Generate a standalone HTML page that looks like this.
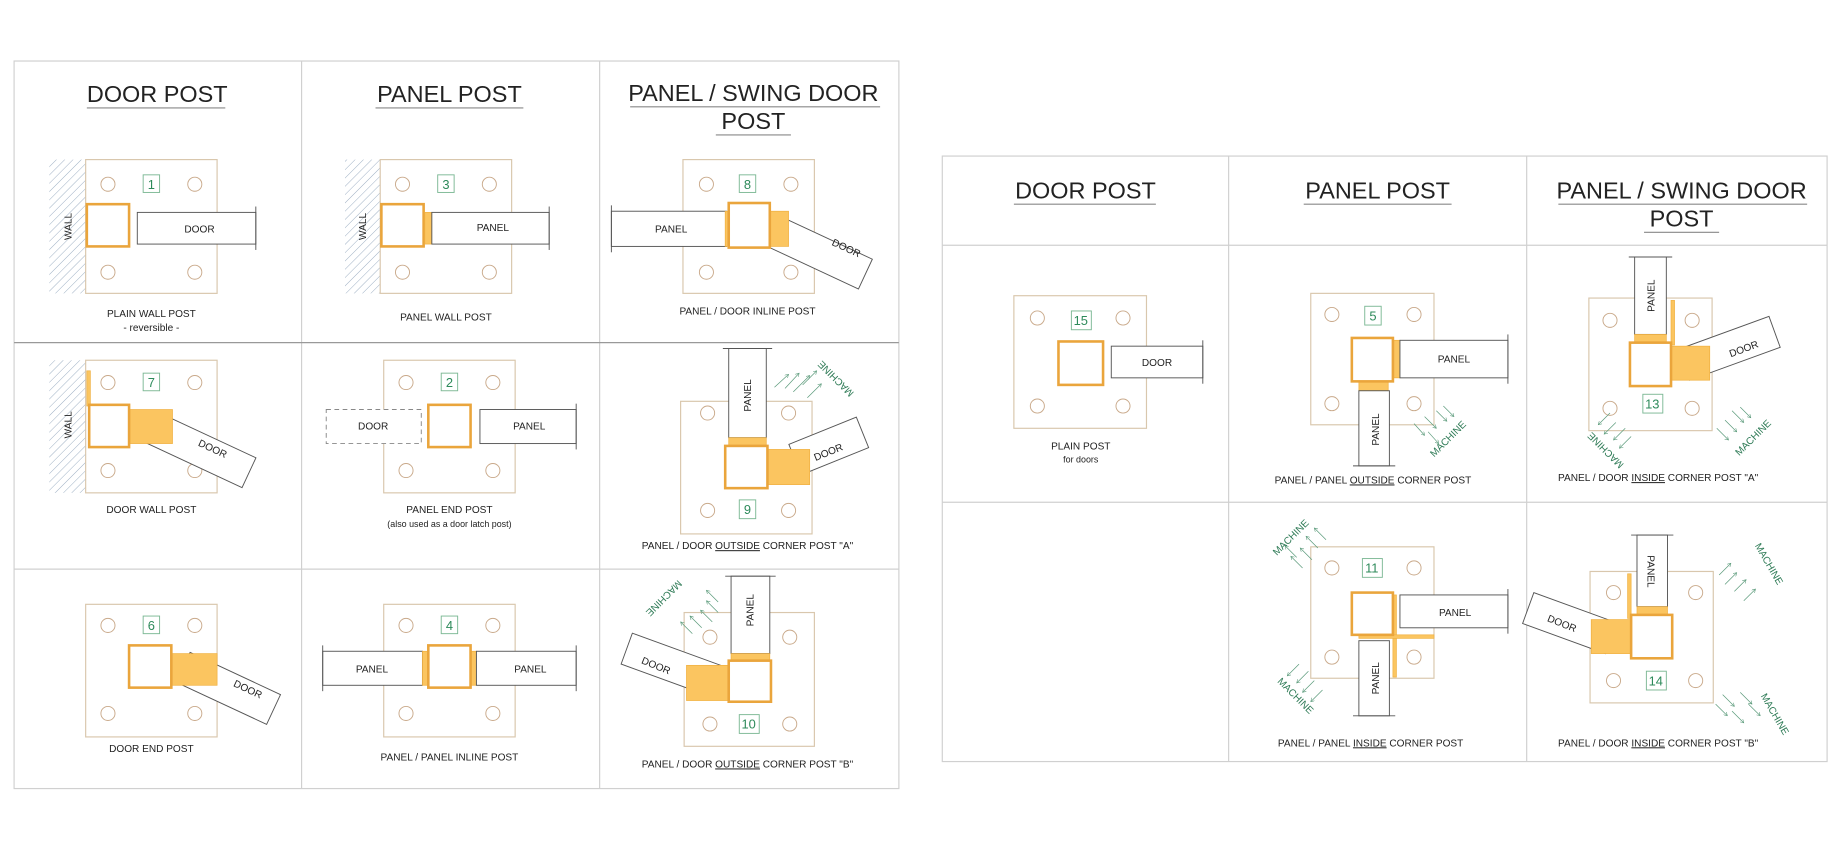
<!DOCTYPE html>
<html><head><meta charset="utf-8"><style>
html,body{margin:0;padding:0;background:#fff;width:1840px;height:866px;overflow:hidden}
svg{display:block}
text{font-family:"Liberation Sans",sans-serif;fill:#222}
.pl{fill:#fff;stroke:#d9c7ad;stroke-width:1}
.h{fill:#fff;stroke:#c9a98a;stroke-width:.8}
.po{fill:#fff;stroke:#eaa53c;stroke-width:2.2}
.or{fill:#fbc560;stroke:#f0b040;stroke-width:.6}
.pn{fill:#fff;stroke:#555;stroke-width:.8}
.nb{fill:#fff;stroke:#7cb894;stroke-width:.8}
.nt{fill:#2d8a5a;font-size:11px;text-anchor:middle}
.lb{font-size:8.6px;text-anchor:middle}
.t{font-size:8.6px;text-anchor:middle}
.hd{font-size:20px;text-anchor:middle}
.mc{fill:#2d7a55;font-size:8.5px;text-anchor:middle}
.ar{stroke:#5a9a7a;stroke-width:.6;fill:none;marker-end:url(#a)}
.g{stroke:#d0d0d0;stroke-width:1;fill:none}
.gd{stroke:#999;stroke-width:1}
</style></head><body>
<svg width="1840" height="866" viewBox="0 0 1568 738" preserveAspectRatio="none">
<defs>
<marker id="a" markerWidth="6" markerHeight="6" refX="5" refY="3" orient="auto"><path d="M0,0 L5,3 L0,6" fill="none" stroke="#5a9a7a" stroke-width=".8"/></marker>
<pattern id="hatch" width="5" height="5" patternUnits="userSpaceOnUse" patternTransform="rotate(45)"><line x1="0" y1="0" x2="0" y2="5" stroke="#8aa0b8" stroke-width=".7"/></pattern>
</defs>

<!-- LEFT TABLE -->
<rect x="12" y="52" width="754" height="620" class="g"/>
<line x1="257" y1="52" x2="257" y2="672" class="g"/>
<line x1="511" y1="52" x2="511" y2="672" class="g"/>
<line x1="12" y1="292" x2="766" y2="292" class="gd"/>
<line x1="12" y1="485" x2="766" y2="485" class="g"/>

<text x="134" y="87" class="hd">DOOR POST</text><line x1="74" y1="92" x2="192" y2="92" stroke="#888"/>
<text x="383" y="87" class="hd">PANEL POST</text><line x1="320" y1="92" x2="446" y2="92" stroke="#888"/>
<text x="642" y="86" class="hd">PANEL / SWING DOOR</text><line x1="537" y1="91" x2="750" y2="91" stroke="#888"/>
<text x="642" y="110" class="hd">POST</text><line x1="610" y1="115" x2="674" y2="115" stroke="#888"/>

<!-- cell 1 -->
<rect x="42" y="136" width="31" height="114" fill="url(#hatch)"/>
<rect x="73" y="136" width="112" height="114" class="pl"/>
<circle cx="92" cy="157" r="6" class="h"/><circle cx="166" cy="157" r="6" class="h"/><circle cx="92" cy="232" r="6" class="h"/><circle cx="166" cy="232" r="6" class="h"/>
<rect x="122" y="149" width="14" height="15" class="nb"/><text x="129" y="161" class="nt">1</text>
<rect x="74" y="174" width="36" height="36" class="po"/>
<rect x="117" y="181" width="101" height="27" class="pn"/><line x1="218" y1="176" x2="218" y2="213" stroke="#555" stroke-width=".8"/>
<text x="170" y="198" class="t">DOOR</text>
<text x="61" y="193" class="t" transform="rotate(-90 61 193)">WALL</text>
<text x="129" y="270" class="lb">PLAIN WALL POST</text><text x="129" y="282" class="lb">- reversible -</text>

<!-- cell 3 -->
<rect x="294" y="136" width="30" height="114" fill="url(#hatch)"/>
<rect x="324" y="136" width="112" height="114" class="pl"/>
<circle cx="343" cy="157" r="6" class="h"/><circle cx="417" cy="157" r="6" class="h"/><circle cx="343" cy="232" r="6" class="h"/><circle cx="417" cy="232" r="6" class="h"/>
<rect x="373" y="149" width="14" height="15" class="nb"/><text x="380" y="161" class="nt">3</text>
<rect x="325" y="174" width="36" height="36" class="po"/>
<rect x="362" y="181" width="6" height="27" class="or"/>
<rect x="368" y="181" width="100" height="27" class="pn"/><line x1="468" y1="176" x2="468" y2="213" stroke="#555" stroke-width=".8"/>
<text x="420" y="197" class="t">PANEL</text>
<text x="312" y="193" class="t" transform="rotate(-90 312 193)">WALL</text>
<text x="380" y="273" class="lb">PANEL WALL POST</text>

<!-- cell 8 -->
<rect x="582" y="136" width="112" height="114" class="pl"/>
<circle cx="602" cy="157" r="6" class="h"/><circle cx="674" cy="157" r="6" class="h"/><circle cx="602" cy="232" r="6" class="h"/><circle cx="674" cy="232" r="6" class="h"/>
<rect x="630" y="149" width="14" height="15" class="nb"/><text x="637" y="161" class="nt">8</text>
<g transform="translate(660,182) rotate(25)"><rect x="0" y="0" width="92" height="28" class="pn"/></g>
<text x="720" y="214" class="t" transform="rotate(25 720 214)">DOOR</text>
<rect x="521" y="180" width="98" height="30" class="pn"/><line x1="521" y1="175" x2="521" y2="215" stroke="#555" stroke-width=".8"/>
<text x="572" y="198" class="t">PANEL</text>
<rect x="618" y="180" width="54" height="30" class="or"/>
<rect x="621" y="173" width="35" height="38" class="po"/>
<text x="637" y="268" class="lb">PANEL / DOOR INLINE POST</text>

<!-- cell 7 -->
<rect x="42" y="307" width="31" height="113" fill="url(#hatch)"/>
<rect x="73" y="307" width="112" height="113" class="pl"/>
<circle cx="92" cy="326" r="6" class="h"/><circle cx="166" cy="326" r="6" class="h"/><circle cx="92" cy="401" r="6" class="h"/><circle cx="166" cy="401" r="6" class="h"/>
<rect x="122" y="318" width="14" height="15" class="nb"/><text x="129" y="330" class="nt">7</text>
<g transform="translate(132,350) rotate(25)"><rect x="0" y="0" width="95" height="28" class="pn"/></g>
<text x="180" y="385" class="t" transform="rotate(25 180 385)">DOOR</text>
<rect x="110" y="349" width="37" height="29" class="or"/>
<rect x="74" y="316" width="3" height="30" class="or"/>
<rect x="76" y="345" width="34" height="36" class="po"/>
<text x="61" y="362" class="t" transform="rotate(-90 61 362)">WALL</text>
<text x="129" y="437" class="lb">DOOR WALL POST</text>

<!-- cell 2 -->
<rect x="327" y="307" width="112" height="113" class="pl"/>
<circle cx="346" cy="326" r="6" class="h"/><circle cx="420" cy="326" r="6" class="h"/><circle cx="346" cy="401" r="6" class="h"/><circle cx="420" cy="401" r="6" class="h"/>
<rect x="376" y="318" width="14" height="15" class="nb"/><text x="383" y="330" class="nt">2</text>
<rect x="278" y="349" width="81" height="29" fill="#fff" stroke="#888" stroke-width=".8" stroke-dasharray="4 3"/>
<text x="318" y="366" class="t">DOOR</text>
<rect x="365" y="345" width="36" height="36" class="po"/>
<rect x="409" y="349" width="82" height="29" class="pn"/><line x1="491" y1="344" x2="491" y2="383" stroke="#555" stroke-width=".8"/>
<text x="451" y="366" class="t">PANEL</text>
<text x="383" y="437" class="lb">PANEL END POST</text><text x="383" y="449" class="lb" style="font-size:7.6px">(also used as a door latch post)</text>

<!-- cell 9 -->
<rect x="580" y="342" width="112" height="113" class="pl"/>
<circle cx="603" cy="352" r="6" class="h"/><circle cx="672" cy="352" r="6" class="h"/><circle cx="603" cy="435" r="6" class="h"/><circle cx="672" cy="435" r="6" class="h"/>
<rect x="630" y="426" width="14" height="16" class="nb"/><text x="637" y="438" class="nt">9</text>
<rect x="621" y="297" width="32" height="76" class="pn"/><line x1="616" y1="297" x2="658" y2="297" stroke="#555" stroke-width=".8"/>
<text x="640" y="337" class="t" transform="rotate(-90 640 337)">PANEL</text>
<rect x="621" y="373" width="32" height="7" class="or"/>
<g transform="translate(676,388) rotate(-22)"><rect x="0" y="-10" width="62" height="28" class="pn"/></g>
<text x="707" y="388" class="t" transform="rotate(-22 707 388)">DOOR</text>
<rect x="654" y="383" width="36" height="30" class="or"/>
<rect x="618" y="380" width="36" height="36" class="po"/>
<line x1="684" y1="328" x2="696" y2="316" class="ar"/><line x1="676" y1="334" x2="690" y2="320" class="ar"/><line x1="669" y1="331" x2="681" y2="318" class="ar"/><line x1="688" y1="339" x2="700" y2="327" class="ar"/><line x1="660" y1="330" x2="672" y2="319" class="ar"/>
<text x="710" y="325" class="mc" transform="rotate(45 710 325) rotate(180 710 322)">MACHINE</text>
<text x="637" y="468" class="lb">PANEL / DOOR <tspan text-decoration="underline">OUTSIDE</tspan> CORNER POST "A"</text>

<!-- cell 6 -->
<rect x="73" y="515" width="112" height="113" class="pl"/>
<circle cx="92" cy="533" r="6" class="h"/><circle cx="166" cy="533" r="6" class="h"/><circle cx="92" cy="608" r="6" class="h"/><circle cx="166" cy="608" r="6" class="h"/>
<rect x="122" y="525" width="14" height="15" class="nb"/><text x="129" y="537" class="nt">6</text>
<g transform="translate(162,556) rotate(25)"><rect x="0" y="0" width="85" height="28" class="pn"/></g>
<text x="210" y="590" class="t" transform="rotate(25 210 590)">DOOR</text>
<rect x="146" y="557" width="39" height="27" class="or"/>
<rect x="110" y="550" width="36" height="36" class="po"/>
<text x="129" y="641" class="lb">DOOR END POST</text>

<!-- cell 4 -->
<rect x="327" y="515" width="112" height="113" class="pl"/>
<circle cx="346" cy="533" r="6" class="h"/><circle cx="420" cy="533" r="6" class="h"/><circle cx="346" cy="608" r="6" class="h"/><circle cx="420" cy="608" r="6" class="h"/>
<rect x="376" y="525" width="14" height="15" class="nb"/><text x="383" y="537" class="nt">4</text>
<rect x="275" y="555" width="85" height="29" class="pn"/><line x1="275" y1="550" x2="275" y2="589" stroke="#555" stroke-width=".8"/>
<text x="317" y="573" class="t">PANEL</text>
<rect x="360" y="555" width="46" height="29" class="or"/>
<rect x="365" y="550" width="36" height="36" class="po"/>
<rect x="406" y="555" width="85" height="29" class="pn"/><line x1="491" y1="550" x2="491" y2="589" stroke="#555" stroke-width=".8"/>
<text x="452" y="573" class="t">PANEL</text>
<text x="383" y="648" class="lb">PANEL / PANEL INLINE POST</text>

<!-- cell 10 -->
<rect x="583" y="522" width="111" height="114" class="pl"/>
<circle cx="605" cy="543" r="6" class="h"/><circle cx="673" cy="543" r="6" class="h"/><circle cx="605" cy="617" r="6" class="h"/><circle cx="673" cy="617" r="6" class="h"/>
<rect x="630" y="609" width="17" height="16" class="nb"/><text x="638" y="621" class="nt">10</text>
<rect x="623" y="491" width="33" height="66" class="pn"/><line x1="618" y1="491" x2="661" y2="491" stroke="#555" stroke-width=".8"/>
<text x="642" y="520" class="t" transform="rotate(-90 642 520)">PANEL</text>
<rect x="623" y="557" width="33" height="8" class="or"/>
<g transform="translate(612,596) rotate(200)"><rect x="0" y="0" width="88" height="28" class="pn"/></g>
<text x="558" y="570" class="t" transform="rotate(22 558 570)">DOOR</text>
<rect x="585" y="567" width="36" height="30" class="or"/>
<rect x="621" y="563" width="36" height="35" class="po"/>
<line x1="590" y1="540" x2="580" y2="530" class="ar"/><line x1="598" y1="535" x2="588" y2="525" class="ar"/><line x1="607" y1="530" x2="597" y2="520" class="ar"/><line x1="612" y1="522" x2="602" y2="512" class="ar"/><line x1="612" y1="513" x2="602" y2="503" class="ar"/>
<text x="568" y="512" class="mc" transform="rotate(-45 568 512) rotate(180 568 509)">MACHINE</text>
<text x="637" y="654" class="lb">PANEL / DOOR <tspan text-decoration="underline">OUTSIDE</tspan> CORNER POST "B"</text>

<!-- RIGHT TABLE -->
<rect x="803" y="133" width="754" height="516" class="g"/>
<line x1="1047" y1="133" x2="1047" y2="649" class="g"/>
<line x1="1301" y1="133" x2="1301" y2="649" class="g"/>
<line x1="803" y1="209" x2="1557" y2="209" class="g"/>
<line x1="803" y1="428" x2="1557" y2="428" class="g"/>

<text x="925" y="169" class="hd">DOOR POST</text><line x1="864" y1="174" x2="985" y2="174" stroke="#888"/>
<text x="1174" y="169" class="hd">PANEL POST</text><line x1="1111" y1="174" x2="1237" y2="174" stroke="#888"/>
<text x="1433" y="169" class="hd">PANEL / SWING DOOR</text><line x1="1328" y1="174" x2="1540" y2="174" stroke="#888"/>
<text x="1433" y="193" class="hd">POST</text><line x1="1401" y1="198" x2="1465" y2="198" stroke="#888"/>

<!-- cell 15 -->
<rect x="864" y="252" width="113" height="113" class="pl"/>
<circle cx="884" cy="271" r="6" class="h"/><circle cx="957" cy="271" r="6" class="h"/><circle cx="884" cy="346" r="6" class="h"/><circle cx="957" cy="346" r="6" class="h"/>
<rect x="913" y="265" width="17" height="16" class="nb"/><text x="921" y="277" class="nt">15</text>
<rect x="902" y="291" width="38" height="37" class="po"/>
<rect x="947" y="295" width="78" height="27" class="pn"/><line x1="1025" y1="290" x2="1025" y2="327" stroke="#555" stroke-width=".8"/>
<text x="986" y="312" class="t">DOOR</text>
<text x="921" y="383" class="lb">PLAIN POST</text><text x="921" y="394" class="lb" style="font-size:7.6px">for doors</text>

<!-- cell 5 -->
<rect x="1117" y="250" width="105" height="112" class="pl"/>
<circle cx="1135" cy="268" r="6" class="h"/><circle cx="1205" cy="268" r="6" class="h"/><circle cx="1135" cy="344" r="6" class="h"/><circle cx="1205" cy="344" r="6" class="h"/>
<rect x="1163" y="261" width="14" height="16" class="nb"/><text x="1170" y="273" class="nt">5</text>
<rect x="1187" y="290" width="6" height="32" class="or"/>
<rect x="1193" y="290" width="92" height="32" class="pn"/><line x1="1285" y1="285" x2="1285" y2="327" stroke="#555" stroke-width=".8"/>
<text x="1239" y="309" class="t">PANEL</text>
<rect x="1158" y="325" width="25" height="8" class="or"/>
<rect x="1158" y="333" width="26" height="64" class="pn"/><line x1="1153" y1="397" x2="1189" y2="397" stroke="#555" stroke-width=".8"/>
<text x="1175" y="366" class="t" transform="rotate(-90 1175 366)">PANEL</text>
<rect x="1152" y="288" width="35" height="37" class="po"/>
<line x1="1205" y1="361" x2="1214" y2="371" class="ar"/><line x1="1214" y1="355" x2="1224" y2="365" class="ar"/><line x1="1224" y1="350" x2="1233" y2="359" class="ar"/><line x1="1217" y1="368" x2="1226" y2="378" class="ar"/><line x1="1230" y1="346" x2="1239" y2="355" class="ar"/>
<text x="1236" y="376" class="mc" transform="rotate(-45 1236 376)">MACHINE</text>
<text x="1170" y="412" class="lb">PANEL / PANEL <tspan text-decoration="underline">OUTSIDE</tspan> CORNER POST</text>

<!-- cell 13 -->
<rect x="1354" y="254" width="105" height="113" class="pl"/>
<circle cx="1372" cy="273" r="6" class="h"/><circle cx="1442" cy="273" r="6" class="h"/><circle cx="1372" cy="348" r="6" class="h"/><circle cx="1442" cy="348" r="6" class="h"/>
<rect x="1400" y="336" width="17" height="16" class="nb"/><text x="1408" y="348" class="nt">13</text>
<rect x="1393" y="219" width="27" height="66" class="pn"/><line x1="1388" y1="219" x2="1425" y2="219" stroke="#555" stroke-width=".8"/>
<text x="1410" y="252" class="t" transform="rotate(-90 1410 252)">PANEL</text>
<rect x="1393" y="285" width="27" height="7" class="or"/>
<g transform="translate(1440,324) rotate(-20)"><rect x="0" y="-28" width="82" height="28" class="pn"/></g>
<text x="1487" y="300" class="t" transform="rotate(-20 1487 300)">DOOR</text>
<rect x="1424" y="295" width="33" height="29" class="or"/>
<rect x="1424" y="256" width="3" height="38" class="or"/>
<rect x="1389" y="292" width="35" height="37" class="po"/>
<line x1="1372" y1="352" x2="1362" y2="362" class="ar"/><line x1="1377" y1="360" x2="1367" y2="370" class="ar"/><line x1="1385" y1="365" x2="1375" y2="375" class="ar"/><line x1="1390" y1="372" x2="1380" y2="382" class="ar"/>
<text x="1366" y="386" class="mc" transform="rotate(45 1366 386) rotate(180 1366 383)">MACHINE</text>
<line x1="1463" y1="365" x2="1473" y2="375" class="ar"/><line x1="1470" y1="358" x2="1480" y2="368" class="ar"/><line x1="1476" y1="350" x2="1486" y2="360" class="ar"/><line x1="1483" y1="347" x2="1492" y2="356" class="ar"/>
<text x="1496" y="375" class="mc" transform="rotate(-45 1496 375)">MACHINE</text>
<text x="1413" y="410" class="lb">PANEL / DOOR <tspan text-decoration="underline">INSIDE</tspan> CORNER POST "A"</text>

<!-- cell 11 -->
<rect x="1117" y="466" width="105" height="112" class="pl"/>
<circle cx="1135" cy="484" r="6" class="h"/><circle cx="1205" cy="484" r="6" class="h"/><circle cx="1135" cy="560" r="6" class="h"/><circle cx="1205" cy="560" r="6" class="h"/>
<rect x="1161" y="476" width="17" height="16" class="nb"/><text x="1169" y="488" class="nt">11</text>
<rect x="1193" y="507" width="92" height="28" class="pn"/><line x1="1285" y1="502" x2="1285" y2="540" stroke="#555" stroke-width=".8"/>
<text x="1240" y="525" class="t">PANEL</text>
<rect x="1158" y="546" width="26" height="64" class="pn"/><line x1="1153" y1="610" x2="1189" y2="610" stroke="#555" stroke-width=".8"/>
<text x="1175" y="578" class="t" transform="rotate(-90 1175 578)">PANEL</text>
<rect x="1187" y="507" width="3" height="70" class="or"/>
<rect x="1158" y="541" width="64" height="3" class="or"/>
<rect x="1152" y="505" width="35" height="36" class="po"/>
<line x1="1110" y1="484" x2="1100" y2="474" class="ar"/><line x1="1118" y1="477" x2="1108" y2="467" class="ar"/><line x1="1123" y1="467" x2="1113" y2="457" class="ar"/><line x1="1130" y1="460" x2="1120" y2="450" class="ar"/><line x1="1105" y1="475" x2="1095" y2="465" class="ar"/>
<text x="1102" y="460" class="mc" transform="rotate(-45 1102 460)">MACHINE</text>
<line x1="1107" y1="566" x2="1097" y2="576" class="ar"/><line x1="1115" y1="572" x2="1105" y2="582" class="ar"/><line x1="1120" y1="580" x2="1110" y2="590" class="ar"/><line x1="1127" y1="588" x2="1117" y2="598" class="ar"/>
<text x="1102" y="595" class="mc" transform="rotate(45 1102 595)">MACHINE</text>
<text x="1168" y="636" class="lb">PANEL / PANEL <tspan text-decoration="underline">INSIDE</tspan> CORNER POST</text>

<!-- cell 14 -->
<rect x="1355" y="487" width="105" height="112" class="pl"/>
<circle cx="1375" cy="505" r="6" class="h"/><circle cx="1445" cy="505" r="6" class="h"/><circle cx="1375" cy="580" r="6" class="h"/><circle cx="1445" cy="580" r="6" class="h"/>
<rect x="1403" y="572" width="17" height="16" class="nb"/><text x="1411" y="584" class="nt">14</text>
<rect x="1395" y="456" width="26" height="61" class="pn"/><line x1="1390" y1="456" x2="1426" y2="456" stroke="#555" stroke-width=".8"/>
<text x="1404" y="487" class="t" transform="rotate(90 1404 487)">PANEL</text>
<rect x="1395" y="517" width="26" height="7" class="or"/>
<g transform="translate(1368,557) rotate(200)"><rect x="0" y="0" width="75" height="28" class="pn"/></g>
<text x="1330" y="534" class="t" transform="rotate(22 1330 534)">DOOR</text>
<rect x="1356" y="528" width="34" height="29" class="or"/>
<rect x="1387" y="489" width="3" height="38" class="or"/>
<rect x="1390" y="524" width="35" height="37" class="po"/>
<line x1="1465" y1="490" x2="1475" y2="480" class="ar"/><line x1="1470" y1="498" x2="1480" y2="488" class="ar"/><line x1="1478" y1="504" x2="1488" y2="494" class="ar"/><line x1="1486" y1="512" x2="1496" y2="502" class="ar"/>
<text x="1505" y="482" class="mc" transform="rotate(60 1505 482)">MACHINE</text>
<line x1="1462" y1="600" x2="1472" y2="610" class="ar"/><line x1="1468" y1="592" x2="1478" y2="602" class="ar"/><line x1="1476" y1="606" x2="1486" y2="616" class="ar"/><line x1="1483" y1="590" x2="1493" y2="600" class="ar"/><line x1="1490" y1="600" x2="1500" y2="610" class="ar"/>
<text x="1510" y="610" class="mc" transform="rotate(60 1510 610)">MACHINE</text>
<text x="1413" y="636" class="lb">PANEL / DOOR <tspan text-decoration="underline">INSIDE</tspan> CORNER POST "B"</text>
</svg>
</body></html>
